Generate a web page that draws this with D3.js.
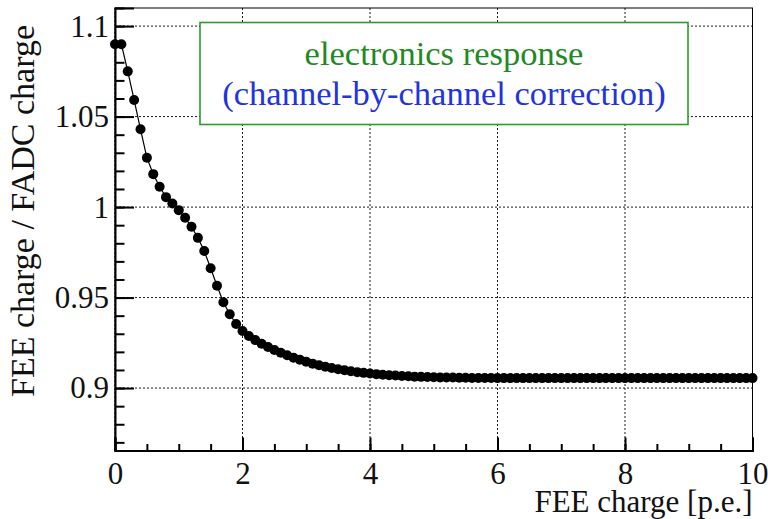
<!DOCTYPE html>
<html>
<head>
<meta charset="utf-8">
<script src="https://cdn.jsdelivr.net/npm/d3@7"></script>
<style>
  body { margin: 0; background: #fff; }
  svg text { font-family: "Liberation Serif", "Times New Roman", Times, "DejaVu Serif", serif !important; }
</style>
</head>
<body>
<script>
// FEE charge [p.e.]
var charge = [
  0.0, 0.1, 0.2, 0.3, 0.4, 0.5, 0.6, 0.7, 0.8, 0.9,
  1.0, 1.1, 1.2, 1.3, 1.4, 1.5, 1.6, 1.7, 1.8, 1.9,
  2.0, 2.1, 2.2, 2.3, 2.4, 2.5, 2.6, 2.7, 2.8, 2.9,
  3.0, 3.1, 3.2, 3.3, 3.4, 3.5, 3.6, 3.7, 3.8, 3.9,
  4.0, 4.1, 4.2, 4.3, 4.4, 4.5, 4.6, 4.7, 4.8, 4.9,
  5.0, 5.1, 5.2, 5.3, 5.4, 5.5, 5.6, 5.7, 5.8, 5.9,
  6.0, 6.1, 6.2, 6.3, 6.4, 6.5, 6.6, 6.7, 6.8, 6.9,
  7.0, 7.1, 7.2, 7.3, 7.4, 7.5, 7.6, 7.7, 7.8, 7.9,
  8.0, 8.1, 8.2, 8.3, 8.4, 8.5, 8.6, 8.7, 8.8, 8.9,
  9.0, 9.1, 9.2, 9.3, 9.4, 9.5, 9.6, 9.7, 9.8, 9.9,
  10.0
];
// FEE charge / FADC charge
var ratio = [
  1.0900, 1.0900, 1.0750, 1.0592, 1.0430, 1.0273, 1.0182, 1.0112, 1.0055, 1.0020,
  0.9983, 0.9941, 0.9891, 0.9830, 0.9757, 0.9662, 0.9565, 0.9474, 0.9408, 0.9354,
  0.9315, 0.9288, 0.9265, 0.9245, 0.9227, 0.9210, 0.9195, 0.9181, 0.9168, 0.9156,
  0.9145, 0.9135, 0.9126, 0.9118, 0.9111, 0.9104, 0.9098, 0.9093, 0.9088, 0.9084,
  0.9080, 0.9077, 0.9074, 0.9071, 0.9069, 0.9067, 0.9065, 0.9063, 0.9062, 0.9061,
  0.9060, 0.9059, 0.9058, 0.9058, 0.9057, 0.9057, 0.9056, 0.9056, 0.9056, 0.9056,
  0.9055, 0.9055, 0.9055, 0.9055, 0.9055, 0.9055, 0.9055, 0.9055, 0.9055, 0.9055,
  0.9055, 0.9055, 0.9055, 0.9055, 0.9055, 0.9055, 0.9055, 0.9055, 0.9055, 0.9055,
  0.9055, 0.9055, 0.9055, 0.9055, 0.9055, 0.9055, 0.9055, 0.9055, 0.9055, 0.9055,
  0.9055, 0.9055, 0.9055, 0.9055, 0.9055, 0.9055, 0.9055, 0.9055, 0.9055, 0.9055,
  0.9055
];
var xTicks = [0, 2, 4, 6, 8, 10];
var yTicks = [0.9, 0.95, 1, 1.05, 1.1];
var yTickLabels = ["0.9", "0.95", "1", "1.05", "1.1"];
var legendLines = ["electronics response", "(channel-by-channel correction)"];

var width = 768, height = 519;
var padL = 115, padR = 752.5, padT = 8, padB = 450.5;
var serif = "'Liberation Serif', 'Times New Roman', Times, 'DejaVu Serif', serif";

var x = d3.scaleLinear().domain([0, 10]).range([padL, padR]);
var y = d3.scaleLinear().domain([0.8655, 1.11]).range([padB, padT]);

var svg = d3.select("body").append("svg")
  .attr("width", width).attr("height", height);

// grid
var grid = svg.append("g").attr("stroke", "#000").attr("stroke-width", 0.9)
  .attr("stroke-dasharray", "2,2");
xTicks.forEach(function (t) {
  grid.append("line").attr("x1", x(t)).attr("x2", x(t)).attr("y1", padT).attr("y2", padB);
});
yTicks.forEach(function (t) {
  grid.append("line").attr("x1", padL).attr("x2", padR).attr("y1", y(t)).attr("y2", y(t));
});

// frame (top and right)
svg.append("rect").attr("x", padL).attr("y", padT)
  .attr("width", padR - padL).attr("height", padB - padT)
  .attr("fill", "none").attr("stroke", "#000").attr("stroke-width", 1);

// legend box
var box = svg.append("g").attr("font-family", serif);
box.append("rect").attr("x", 200).attr("y", 22.5).attr("width", 488).attr("height", 102)
  .attr("fill", "#fff").attr("stroke", "#2e9b2e").attr("stroke-width", 1.6);
box.append("text").attr("x", 444).attr("y", 65).attr("text-anchor", "middle")
  .attr("font-size", 34.5).attr("fill", "#1f8a1f").text(legendLines[0]);
box.append("text").attr("x", 444).attr("y", 105).attr("text-anchor", "middle")
  .attr("font-size", 34.5).attr("fill", "#2233e0").text(legendLines[1]);

// curve
var line = d3.line()
  .x(function (d, i) { return x(charge[i]); })
  .y(function (d) { return y(d); });
svg.append("path").datum(ratio).attr("fill", "none").attr("stroke", "#000")
  .attr("stroke-width", 1.2).attr("d", line);
svg.append("g").selectAll("circle").data(ratio).enter().append("circle")
  .attr("cx", function (d, i) { return x(charge[i]); })
  .attr("cy", function (d) { return y(d); })
  .attr("r", 5).attr("fill", "#000");

// x axis
var xAxis = d3.axisBottom(x).tickValues(xTicks).tickSize(-13).tickPadding(10)
  .tickFormat(d3.format("d"));
var gx = svg.append("g").attr("transform", "translate(0," + padB + ")").call(xAxis)
  .attr("font-family", serif);
gx.select(".domain").attr("stroke-width", 2);
gx.selectAll(".tick line").attr("stroke-width", 2);
gx.selectAll(".tick text").attr("font-size", 31).attr("fill", "#111").attr("dy", "0.75em");
var xMinor = d3.axisBottom(x).ticks(20).tickSize(-6.5).tickFormat("");
var gxm = svg.append("g").attr("transform", "translate(0," + padB + ")").call(xMinor);
gxm.select(".domain").remove();
gxm.selectAll(".tick line").attr("stroke-width", 2);

// y axis
var yAxis = d3.axisLeft(y).tickValues(yTicks).tickSize(-19).tickPadding(6)
  .tickFormat(function (d, i) { return yTickLabels[i]; });
var gy = svg.append("g").attr("transform", "translate(" + padL + ",0)").call(yAxis)
  .attr("font-family", serif);
gy.select(".domain").attr("stroke-width", 2);
gy.selectAll(".tick line").attr("stroke-width", 2);
gy.selectAll(".tick text").attr("font-size", 31).attr("fill", "#111");
var yMinor = d3.axisLeft(y).ticks(25).tickSize(-9.5).tickFormat("");
var gym = svg.append("g").attr("transform", "translate(" + padL + ",0)").call(yMinor);
gym.select(".domain").remove();
gym.selectAll(".tick line").attr("stroke-width", 2);

// axis titles
svg.append("text").attr("x", padR).attr("y", 512).attr("text-anchor", "end")
  .attr("font-family", serif).attr("font-size", 31).attr("fill", "#111")
  .text("FEE charge [p.e.]");
svg.append("text").attr("transform", "translate(34,25) rotate(-90)")
  .attr("text-anchor", "end").attr("font-family", serif).attr("font-size", 34)
  .attr("fill", "#111").text("FEE charge / FADC charge");
</script>
</body>
</html>
